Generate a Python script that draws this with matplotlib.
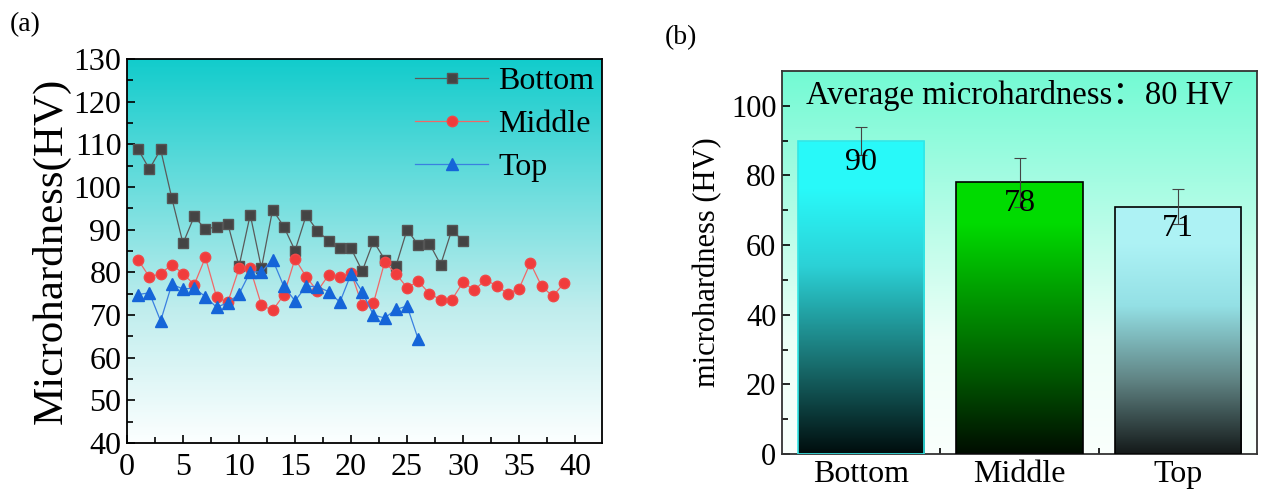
import matplotlib
matplotlib.use("Agg")
import matplotlib.pyplot as plt
import numpy as np
from matplotlib.colors import LinearSegmentedColormap

plt.rcParams["font.family"] = ["Liberation Serif", "Noto Sans CJK SC", "DejaVu Sans"]
plt.rcParams["mathtext.fontset"] = "stix"

# (a) microhardness along the sample
bottom_hv = [108.8, 104.2, 108.8, 97.4, 86.8, 93.1, 90.1, 90.7, 91.4, 81.4,
             93.5, 81.0, 94.7, 90.7, 85.1, 93.4, 89.7, 87.4, 85.7, 85.6,
             80.3, 87.3, 83.0, 81.4, 90.0, 86.4, 86.7, 81.8, 90.0, 87.3]
middle_hv = [82.9, 78.9, 79.7, 81.8, 79.7, 77.1, 83.5, 74.2, 73.0, 80.9,
             80.9, 72.3, 71.1, 74.7, 83.2, 78.9, 75.6, 79.4, 78.9, 79.9,
             72.3, 72.8, 82.4, 79.7, 76.4, 77.9, 75.0, 73.6, 73.6, 77.7,
             75.8, 78.3, 76.8, 75.0, 76.2, 82.2, 76.8, 74.4, 77.4]
top_hv = [74.8, 75.2, 68.6, 77.2, 76.1, 76.3, 74.3, 71.8, 72.9, 74.9,
          80.1, 80.1, 83.0, 76.7, 73.3, 76.8, 76.6, 75.5, 73.0, 79.6,
          75.4, 70.0, 69.3, 71.3, 72.1, 64.3]

# (b) averages
regions = ["Bottom", "Middle", "Top"]
avg_hv = [90, 78, 71]
err_hv = [4, 7, 5]


def gradient_bg(ax, colors, stops):
    cmap = LinearSegmentedColormap.from_list("bg", list(zip(stops, colors)))
    grad = np.linspace(0, 1, 256).reshape(-1, 1)
    ax.imshow(grad, cmap=cmap, aspect="auto", extent=[0, 1, 0, 1],
              origin="lower", transform=ax.transAxes, zorder=0)


fig = plt.figure(figsize=(12.61, 4.95), dpi=100)

# ---------- panel (a)
ax1 = fig.add_axes([127 / 1261, 1 - 443 / 495, 475 / 1261, 384 / 495])
gradient_bg(ax1, [(0.99, 1.0, 1.0), (0.75, 0.93, 0.93), (0.07, 0.80, 0.80)], [0, 0.35, 1])

ax1.plot(range(1, len(bottom_hv) + 1), bottom_hv, color="#5a5a5a", lw=0.9,
         marker="s", ms=6.5, mfc="#444444", mec="#555555", label="Bottom", zorder=3)
ax1.plot(range(1, len(middle_hv) + 1), middle_hv, color="#f06868", lw=0.9,
         marker="o", ms=7.5, mfc="#f03c3c", mec="#f04848", label="Middle", zorder=3)
ax1.plot(range(1, len(top_hv) + 1), top_hv, color="#3a80e0", lw=0.9,
         marker="^", ms=8, mfc="#1565d8", mec="#1565d8", label="Top", zorder=3)

ax1.set_xlim(0, 42.4)
ax1.set_ylim(40, 130)
ax1.set_xticks(range(0, 41, 5))
ax1.set_xticks(np.arange(2.5, 41, 5), minor=True)
ax1.set_yticks(range(40, 131, 10))
ax1.set_yticks(range(45, 130, 10), minor=True)
ax1.tick_params(direction="in", labelsize=23, length=6, width=1.2, pad=4)
ax1.tick_params(axis="x", pad=7)
ax1.tick_params(which="minor", direction="in", length=4, width=1.2)
for s in ax1.spines.values():
    s.set_linewidth(1.3)
ax1.set_ylabel("Microhardness(HV)", fontsize=31, labelpad=2)
ax1.legend(loc="upper right", bbox_to_anchor=(1.0, 1.0), frameon=False, fontsize=23,
           handlelength=2.3, handletextpad=0.3, labelspacing=0.42, borderaxespad=0.15,
           borderpad=0.1)
fig.text(10 / 1261, 1 - 25 / 495, "(a)", fontsize=20, va="center")

# ---------- panel (b)
ax2 = fig.add_axes([782 / 1261, 1 - 454 / 495, 475 / 1261, 383 / 495])
gradient_bg(ax2, [(0.98, 1.0, 0.99), (0.93, 1.0, 0.97), (0.45, 0.98, 0.83)], [0, 0.3, 1])

x = np.arange(len(regions))
bars = ax2.bar(x, avg_hv, 0.8, facecolor="none", zorder=3)
edge_cols = ["#33e6e6", "black", "black"]
bar_maps = [
    [(0.0, 0.05, 0.05), (0.10, 0.45, 0.45), (0.17, 0.82, 0.84), (0.16, 0.98, 0.98), (0.16, 0.98, 0.98)],
    [(0.0, 0.05, 0.0), (0.0, 0.35, 0.0), (0.0, 0.62, 0.0), (0.0, 0.86, 0.0), (0.0, 0.86, 0.0)],
    [(0.08, 0.10, 0.10), (0.38, 0.52, 0.52), (0.58, 0.88, 0.90), (0.68, 0.95, 0.96), (0.68, 0.95, 0.96)],
]
for b, cols, ec in zip(bars, bar_maps, edge_cols):
    x0, w, h = b.get_x(), b.get_width(), b.get_height()
    cmap = LinearSegmentedColormap.from_list("bar", list(zip([0, 0.3, 0.6, 0.85, 1], cols)))
    im = ax2.imshow(np.linspace(0, 1, 256).reshape(-1, 1), cmap=cmap, aspect="auto",
                    extent=[x0, x0 + w, 0, h], origin="lower", zorder=2)
    im.set_clip_path(b)
    b.set_edgecolor(ec)
    b.set_linewidth(1.2)

ax2.errorbar(x, avg_hv, yerr=err_hv, fmt="none", ecolor="#444444", elinewidth=0.8,
             capsize=4, capthick=0.8, zorder=4)
for xi, v in zip(x, avg_hv):
    ax2.text(xi, v - 2.0, str(v), ha="center", va="top", fontsize=23, zorder=5)

ax2.set_xlim(-0.5, 2.5)
ax2.set_ylim(0, 110)
ax2.set_xticks(x)
ax2.set_xticklabels(regions)
ax2.set_xticks([0.5, 1.5], minor=True)
ax2.set_yticks(range(0, 101, 20))
ax2.set_yticks(range(10, 110, 20), minor=True)
ax2.tick_params(direction="in", labelsize=22, length=6, width=1.2, pad=4)
ax2.tick_params(axis="x", labelsize=23)
ax2.tick_params(which="minor", direction="in", length=4, width=1.2)
for s in ax2.spines.values():
    s.set_linewidth(1.3)
    s.set_color("#333333")
ax2.set_ylabel("microhardness (HV)", fontsize=22, labelpad=6)
ax2.text(0.5, 0.935, "Average microhardness：80 HV", ha="center", va="center",
         fontsize=23.5, zorder=5, transform=ax2.transAxes)
fig.text(665 / 1261, 1 - 38 / 495, "(b)", fontsize=20, va="center")

fig.savefig("out.png", dpi=100)
